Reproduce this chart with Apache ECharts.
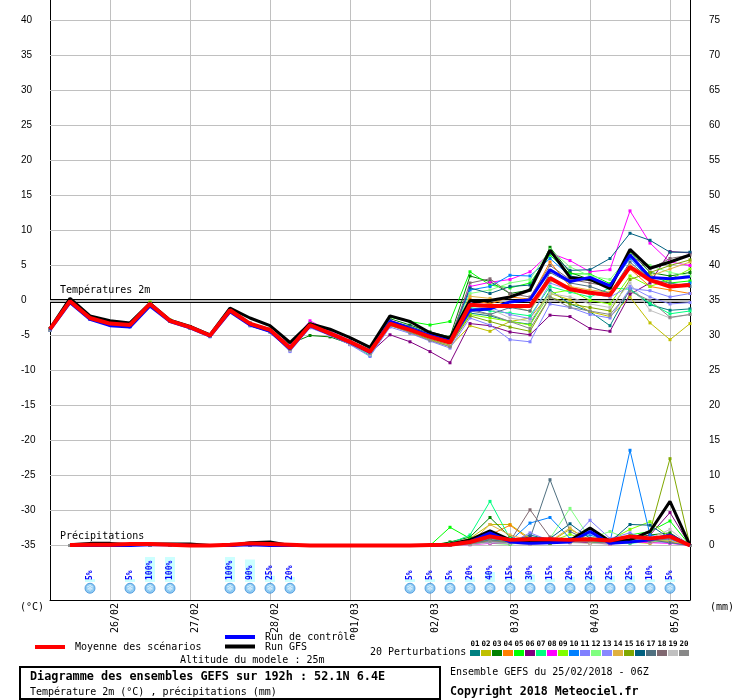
<!DOCTYPE html>
<html>
<head>
<meta charset="utf-8">
<title>Diagramme des ensembles GEFS</title>
<script src="https://cdn.jsdelivr.net/npm/echarts@6.0.0/dist/echarts.min.js"></script>
<style>
html, body { margin: 0; padding: 0; background: #fff; }
#main { width: 740px; height: 700px; }
</style>
</head>
<body>
<div id="main"></div>
<script>
// echéances 6h, du 25/02 06Z au 05/03 06Z (192h)
var times = [
  '25/02 06Z', '25/02 12Z', '25/02 18Z',
  '26/02 00Z', '26/02 06Z', '26/02 12Z', '26/02 18Z',
  '27/02 00Z', '27/02 06Z', '27/02 12Z', '27/02 18Z',
  '28/02 00Z', '28/02 06Z', '28/02 12Z', '28/02 18Z',
  '01/03 00Z', '01/03 06Z', '01/03 12Z', '01/03 18Z',
  '02/03 00Z', '02/03 06Z', '02/03 12Z', '02/03 18Z',
  '03/03 00Z', '03/03 06Z', '03/03 12Z', '03/03 18Z',
  '04/03 00Z', '04/03 06Z', '04/03 12Z', '04/03 18Z',
  '05/03 00Z', '05/03 06Z'
];
var tempTicks = [-35, -30, -25, -20, -15, -10, -5, 0, 5, 10, 15, 20, 25, 30, 35, 40];
var precipTicks = [0, 5, 10, 15, 20, 25, 30, 35, 40, 45, 50, 55, 60, 65, 70, 75];

var memberColors = ['#008080', '#c0c000', '#008000', '#ff8000', '#00ff00', '#800080', '#00ff80', '#ff00ff', '#80ff00', '#0080ff',
  '#8080ff', '#80ff80', '#8888ff', '#e0b040', '#80a800', '#006080', '#507080', '#806870', '#c0c0c0', '#888888'];

// température 2m (°C)
var tempMean = [-4.1, -0.1, -2.5, -3.3, -3.5, -0.5, -2.9, -3.8, -5.0, -1.4, -3.3, -4.2, -6.8, -3.5, -4.7, -5.9, -7.3, -3.3, -4.2, -5.2, -6.0, -0.6, -0.8, -0.8, -0.8, 3.2, 1.6, 1.1, 0.8, 4.8, 2.9, 2.0, 2.2];
var tempGfs = [-4.0, 0.3, -2.2, -2.9, -3.2, -0.4, -2.8, -3.7, -4.9, -1.1, -2.5, -3.6, -6.0, -3.3, -4.1, -5.3, -6.7, -2.2, -3.0, -4.6, -5.4, 0.0, 0.0, 0.5, 1.5, 7.2, 3.3, 3.0, 1.7, 7.3, 4.6, 5.5, 6.5];
var tempControl = [-4.2, -0.3, -2.7, -3.6, -3.8, -0.8, -3.0, -3.9, -5.1, -1.6, -3.5, -4.4, -6.9, -3.6, -4.8, -6.0, -7.4, -3.0, -4.0, -5.0, -5.8, -1.4, -1.2, -0.2, 0.1, 4.4, 2.7, 3.3, 2.1, 6.5, 3.3, 3.1, 3.4];

var t01 = [-4.2, -0.2, -2.6, -3.4, -3.6, -0.6, -2.9, -3.9, -5.1, -1.5, -3.4, -4.3, -6.9, -3.7, -4.8, -6.1, -7.5, -3.5, -4.4, -5.4, -6.3, -1.8, -2.2, -3.0, -3.4, 1.5, -0.5, -1.6, -3.6, 1.6, -0.6, -1.4, -1.2];
var t02 = [-4.0, -0.1, -2.4, -3.2, -3.4, -0.4, -2.8, -3.7, -5.0, -1.3, -3.2, -4.0, -6.5, -3.3, -4.5, -5.8, -7.2, -3.6, -4.5, -5.6, -6.6, -3.6, -4.4, -3.0, -2.5, 1.0, 0.1, -1.6, -2.3, 0.5, -3.2, -5.6, -3.3];
var t03 = [-4.1, 0.0, -2.5, -3.3, -3.6, -0.6, -3.0, -3.8, -5.1, -1.4, -3.6, -4.5, -6.2, -5.0, -5.2, -6.2, -7.6, -2.6, -3.5, -4.5, -5.2, 3.5, 2.7, 1.0, 1.5, 7.6, 4.0, 3.0, 2.0, 7.0, 4.0, 3.5, 4.0];
var t04 = [-4.2, -0.2, -2.6, -3.3, -3.5, -0.5, -2.9, -3.8, -5.0, -1.5, -3.3, -4.2, -6.7, -3.6, -4.6, -5.9, -7.1, -3.1, -4.0, -5.0, -5.6, 0.2, -0.5, 0.5, 0.2, 5.5, 2.0, 1.0, 0.5, 4.5, 2.0, 1.5, 1.0];
var t05 = [-4.1, -0.1, -2.5, -3.4, -3.5, -0.4, -2.9, -3.9, -5.0, -1.4, -3.4, -4.3, -7.0, -3.2, -4.8, -6.2, -7.8, -2.4, -3.0, -3.5, -3.0, 4.1, 2.2, 1.8, 2.5, 6.5, 3.8, 3.8, 2.4, 6.5, 3.6, 2.5, 2.8];
var t06 = [-4.2, -0.2, -2.7, -3.4, -3.6, -0.6, -3.0, -3.9, -5.1, -1.6, -3.5, -4.4, -7.1, -3.8, -4.9, -6.3, -7.5, -4.9, -5.9, -7.3, -8.9, -3.3, -3.6, -4.5, -4.9, -2.1, -2.3, -4.0, -4.4, 0.9, 2.5, 7.0, 6.8];
var t07 = [-4.0, -0.1, -2.5, -3.3, -3.5, -0.5, -2.9, -3.8, -5.0, -1.4, -3.3, -4.2, -6.9, -3.4, -4.7, -6.0, -7.9, -3.3, -4.2, -5.2, -6.1, -1.0, -1.5, -1.8, -2.2, 2.0, 1.2, 0.5, 1.8, 1.6, -0.4, -1.9, -1.5];
var t08 = [-4.1, -0.2, -2.6, -3.4, -3.6, -0.5, -2.9, -3.8, -5.0, -1.3, -3.2, -4.1, -6.4, -2.9, -4.4, -5.7, -7.2, -2.8, -3.8, -4.8, -5.5, 2.0, 2.6, 3.0, 4.1, 6.8, 5.7, 4.1, 4.4, 12.8, 8.2, 5.5, 5.0];
var t09 = [-4.1, 0.1, -2.5, -3.3, -3.5, -0.2, -2.8, -3.8, -5.0, -1.5, -3.4, -4.2, -6.8, -3.5, -4.7, -5.9, -7.4, -3.2, -4.3, -5.3, -6.2, -2.0, -2.5, -3.0, -3.5, 1.0, 1.5, 0.0, -0.5, 3.5, 2.0, 3.0, 4.5];
var t10 = [-4.2, -0.1, -2.6, -3.4, -3.7, -0.6, -3.0, -3.9, -5.1, -1.4, -3.3, -4.3, -6.8, -3.4, -4.6, -5.8, -7.0, -2.9, -3.9, -4.9, -5.7, 1.5, 2.0, 3.6, 3.5, 6.0, 3.5, 3.0, 2.0, 6.0, 3.0, 2.0, 2.5];
var t11 = [-4.1, -0.3, -2.7, -3.5, -3.8, -0.8, -3.0, -3.9, -5.2, -1.7, -3.6, -4.5, -7.3, -3.9, -5.0, -6.3, -8.0, -3.8, -4.7, -5.8, -6.8, -2.5, -3.5, -5.6, -5.9, -0.5, -1.0, -2.0, -2.5, 1.7, 1.4, 0.5, 1.0];
var t12 = [-4.0, -0.1, -2.4, -3.2, -3.4, -0.4, -2.9, -3.8, -5.0, -1.4, -3.2, -4.1, -6.6, -3.3, -4.6, -5.9, -7.3, -3.0, -3.9, -4.8, -5.5, 1.0, 1.5, 2.5, 3.0, 7.3, 4.8, 3.5, 3.0, 6.5, 5.0, 4.0, 3.5];
var t13 = [-4.2, -0.3, -2.7, -3.5, -3.7, -0.7, -3.0, -3.9, -5.1, -1.6, -3.5, -4.4, -7.2, -3.7, -4.9, -6.1, -7.7, -3.4, -4.3, -5.1, -5.9, -0.3, -1.0, -2.0, -2.6, 2.5, 1.5, 1.0, 0.5, 2.0, 0.5, -0.5, -0.3];
var t14 = [-4.1, -0.1, -2.5, -3.3, -3.5, -0.5, -2.9, -3.8, -5.0, -1.4, -3.3, -4.2, -6.7, -3.5, -4.7, -5.9, -7.2, -3.2, -4.1, -5.1, -5.8, 0.6, 0.3, -0.8, -1.5, 2.8, 2.0, 1.5, 1.2, 5.0, 3.5, 4.5, 5.5];
var t15 = [-4.1, -0.1, -2.5, -3.2, -3.4, -0.3, -2.8, -3.8, -5.0, -1.4, -3.3, -4.2, -6.8, -3.6, -4.8, -6.0, -7.4, -3.5, -4.5, -5.5, -6.4, -2.2, -3.0, -3.8, -4.4, 0.5, -0.5, -1.0, -1.5, 3.0, 4.0, 5.0, 5.8];
var t16 = [-4.2, -0.2, -2.6, -3.4, -3.6, -0.6, -3.0, -3.9, -5.1, -1.5, -3.4, -4.3, -6.8, -3.5, -4.7, -5.9, -7.2, -2.9, -3.7, -4.7, -5.5, 1.8, 1.0, 2.0, 2.2, 6.8, 4.3, 4.4, 6.0, 9.6, 8.6, 6.9, 6.9];
var t17 = [-4.1, -0.1, -2.5, -3.4, -3.5, -0.5, -2.9, -3.8, -5.0, -1.4, -3.3, -4.2, -6.9, -3.6, -4.8, -6.0, -7.4, -3.3, -4.2, -5.2, -6.0, -1.2, -2.0, -1.0, -1.5, 4.0, 2.5, 2.0, 1.0, 5.5, 3.0, 2.5, 2.0];
var t18 = [-4.0, -0.1, -2.4, -3.3, -3.5, -0.5, -2.9, -3.8, -5.0, -1.3, -3.2, -4.1, -6.6, -3.4, -4.6, -5.8, -7.1, -3.0, -3.9, -5.0, -5.7, 2.5, 3.1, 1.0, 0.5, 5.0, 3.0, 2.5, 2.0, 6.5, 4.5, 6.0, 6.5];
var t19 = [-4.2, -0.2, -2.6, -3.4, -3.6, -0.6, -3.0, -3.9, -5.1, -1.5, -3.5, -4.4, -7.1, -3.7, -4.9, -6.2, -7.7, -3.4, -4.4, -5.4, -6.3, -0.8, -1.2, -2.5, -3.0, 1.0, 0.5, -0.5, -1.0, 2.5, -1.4, -2.5, -2.0];
var t20 = [-4.1, -0.2, -2.6, -3.4, -3.6, -0.6, -3.0, -3.9, -5.1, -1.5, -3.4, -4.3, -7.0, -3.6, -4.8, -6.1, -7.6, -3.5, -4.6, -5.7, -6.6, -1.5, -2.0, -3.0, -4.0, 0.5, -1.0, -1.5, -2.0, 1.3, 0.0, -2.4, -2.0];
var tempMembers = [t01, t02, t03, t04, t05, t06, t07, t08, t09, t10, t11, t12, t13, t14, t15, t16, t17, t18, t19, t20];

// précipitations 6h (mm)
var precipMean = [null, 0.05, 0.1, 0.1, 0.2, 0.2, 0.1, 0, 0, 0.1, 0.3, 0.2, 0.1, 0, 0, 0, 0, 0, 0, 0.05, 0.1, 0.5, 1.3, 0.8, 0.9, 0.9, 0.8, 0.9, 0.7, 1.3, 1.0, 1.3, 0];
var precipGfs = [null, 0.1, 0.3, 0.3, 0.1, 0.2, 0.2, 0.2, 0, 0, 0.4, 0.5, 0, 0, 0, 0, 0, 0, 0, 0, 0.2, 0.8, 2.1, 0.8, 0.5, 0.6, 0.7, 2.5, 0.6, 0.8, 2.0, 6.3, 0];
var precipControl = [null, 0, 0, 0, 0, 0.1, 0.1, 0, 0, 0, 0.1, 0, 0, 0, 0, 0, 0, 0, 0, 0, 0.1, 0.5, 1.8, 0.5, 0.3, 0.4, 0.5, 2.0, 0.3, 0.5, 0.8, 1.5, 0];

var p01 = [null, 0, 0, 0, 0, 0, 0, 0, 0, 0, 0, 0, 0, 0, 0, 0, 0, 0, 0, 0.1, 0.3, 0.8, 1.2, 0.5, 1.5, 0.8, 1.0, 0.6, 0.3, 0.8, 1.0, 0.5, 0];
var p02 = [null, 0, 0, 0, 0, 0, 0, 0, 0, 0, 0, 0, 0, 0, 0, 0, 0, 0, 0, 0, 0.2, 1.0, 3.0, 3.0, 1.0, 0.5, 2.3, 0.8, 0.3, 0.5, 0.3, 1.0, 0];
var p03 = [null, 0, 0, 0, 0, 0, 0, 0, 0, 0, 0, 0, 0, 0, 0, 0, 0, 0, 0, 0, 0.5, 1.2, 4.0, 1.2, 0.3, 0.6, 0.8, 1.9, 0.5, 1.0, 1.5, 1.8, 0];
var p04 = [null, 0, 0, 0, 0, 0, 0, 0, 0, 0, 0, 0, 0, 0, 0, 0, 0, 0, 0, 0, 0.1, 0.4, 1.5, 2.9, 0.8, 0.5, 0.6, 0.3, 0.8, 1.2, 0.5, 0.6, 0];
var p05 = [null, 0, 0, 0, 0, 0, 0, 0, 0, 0, 0, 0, 0, 0, 0, 0, 0, 0, 0, 0, 2.6, 1.0, 0.3, 0.2, 0.5, 0.4, 0.6, 0.8, 0.5, 1.5, 2.0, 3.5, 0];
var p06 = [null, 0, 0, 0, 0, 0, 0, 0, 0, 0, 0, 0, 0, 0, 0, 0, 0, 0, 0, 0, 0, 0.2, 0.5, 0.3, 0.2, 0.3, 0.5, 0.4, 0.2, 0.6, 1.5, 4.7, 0];
var p07 = [null, 0, 0, 0, 0, 0, 0, 0, 0, 0, 0, 0, 0, 0, 0, 0, 0, 0, 0, 0, 0.3, 1.5, 6.3, 1.0, 0.5, 0.3, 0.8, 0.5, 0.4, 0.3, 0.6, 0.8, 0];
var p08 = [null, 0, 0, 0, 0, 0, 0, 0, 0, 0, 0, 0, 0, 0, 0, 0, 0, 0, 0, 0, 0, 0.1, 0.3, 0.4, 1.2, 0.6, 0.4, 0.8, 0.2, 0.5, 0.4, 0.3, 0];
var p09 = [null, 0, 0, 0, 0, 0, 0, 0, 0, 0, 0, 0, 0, 0, 0, 0, 0, 0, 0, 0, 0.1, 0.6, 1.8, 0.8, 0.4, 0.5, 1.6, 0.6, 0.8, 2.3, 3.4, 1.2, 0];
var p10 = [null, 0, 0, 0, 0, 0, 0, 0, 0, 0, 0, 0, 0, 0, 0, 0, 0, 0, 0, 0, 0.1, 0.3, 0.8, 0.6, 3.2, 4.0, 1.0, 1.5, 0.5, 13.6, 1.5, 0.8, 0];
var p11 = [null, 0, 0, 0, 0, 0, 0, 0, 0, 0, 0, 0, 0, 0, 0, 0, 0, 0, 0, 0, 0, 0.2, 0.6, 0.3, 1.8, 0.7, 0.5, 3.6, 1.0, 1.8, 0.6, 0.4, 0];
var p12 = [null, 0, 0, 0, 0, 0, 0, 0, 0, 0, 0, 0, 0, 0, 0, 0, 0, 0, 0, 0, 0.2, 0.5, 1.0, 0.5, 0.6, 1.0, 5.3, 1.0, 2.0, 0.8, 0.5, 0.7, 0];
var p13 = [null, 0, 0, 0, 0, 0, 0, 0, 0, 0, 0, 0, 0, 0, 0, 0, 0, 0, 0, 0, 0, 0.2, 0.5, 0.4, 0.3, 0.8, 0.6, 1.8, 0.4, 0.6, 1.0, 0.8, 0];
var p14 = [null, 0, 0, 0, 0, 0, 0, 0, 0, 0, 0, 0, 0, 0, 0, 0, 0, 0, 0, 0, 0.1, 0.3, 3.0, 1.5, 0.7, 0.6, 2.5, 0.5, 0.6, 1.0, 0.8, 0.6, 0];
var p15 = [null, 0, 0, 0, 0, 0, 0, 0, 0, 0, 0, 0, 0, 0, 0, 0, 0, 0, 0, 0, 0, 0.2, 0.7, 0.4, 0.5, 0.3, 0.6, 0.7, 0.3, 0.8, 2.0, 12.4, 0];
var p16 = [null, 0, 0, 0, 0, 0, 0, 0, 0, 0, 0, 0, 0, 0, 0, 0, 0, 0, 0, 0, 0.1, 0.4, 1.0, 0.8, 1.2, 1.0, 3.1, 1.0, 0.5, 3.0, 2.9, 1.0, 0];
var p17 = [null, 0, 0, 0, 0, 0, 0, 0, 0, 0, 0, 0, 0, 0, 0, 0, 0, 0, 0, 0, 0.1, 0.3, 0.8, 0.5, 1.0, 9.4, 2.0, 0.6, 0.3, 0.5, 0.8, 0.4, 0];
var p18 = [null, 0, 0, 0, 0, 0, 0, 0, 0, 0, 0, 0, 0, 0, 0, 0, 0, 0, 0, 0, 0, 0.2, 1.0, 0.6, 5.1, 1.2, 0.4, 0.7, 0.5, 0.4, 0.6, 1.0, 0];
var p19 = [null, 0, 0, 0, 0, 0, 0, 0, 0, 0, 0, 0, 0, 0, 0, 0, 0, 0, 0, 0, 0, 0.1, 0.4, 0.3, 0.2, 0.5, 0.4, 0.3, 0.2, 0.5, 1.0, 2.3, 0];
var p20 = [null, 0, 0, 0, 0, 0, 0, 0, 0, 0, 0, 0, 0, 0, 0, 0, 0, 0, 0, 0, 0, 0.2, 0.6, 0.4, 0.5, 0.8, 0.5, 0.6, 0.4, 0.6, 0.8, 1.0, 0];
var precipMembers = [p01, p02, p03, p04, p05, p06, p07, p08, p09, p10, p11, p12, p13, p14, p15, p16, p17, p18, p19, p20];

// probabilité de neige (%)
var snowPct = [null, null, 5, null, 5, 100, 100, null, null, 100, 90, 25, 20, null, null, null, null, null,
  5, 5, 5, 20, 40, 15, 30, 15, 20, 25, 25, 25, 10, 5, null];

var MONO = '"DejaVu Sans Mono", "Liberation Mono", monospace';
var SANS = '"Liberation Sans", Arial, sans-serif';
var snowRow = -25; // ligne des flocons, sous la barre de probabilité

var chart = echarts.init(document.getElementById('main'));

function isDayStart(index, value) {
  return String(value).indexOf('00Z') > 0;
}

function memberLine(data, color, axis) {
  return {
    type: 'line', yAxisIndex: axis, data: data, silent: true,
    symbol: 'rect', symbolSize: 3, showSymbol: true, showAllSymbol: true,
    lineStyle: { width: 1, color: color }, itemStyle: { color: color }, z: 2
  };
}

function mainLine(data, color, width, axis, z) {
  return {
    type: 'line', yAxisIndex: axis, data: data, silent: true,
    symbol: 'none', showSymbol: false,
    lineStyle: { width: width, color: color }, z: z
  };
}

var series = [];

// grille horizontale et double ligne 0°C
var gridLines = tempTicks.map(function (v) {
  return { yAxis: v, lineStyle: { color: '#c0c0c0', width: 1, type: 'solid' } };
});
gridLines.push({ yAxis: 0, lineStyle: { color: '#000', width: 4, type: 'solid' } });
gridLines.push({ yAxis: 0, lineStyle: { color: '#fff', width: 1.5, type: 'solid' } });
series.push({
  type: 'line', yAxisIndex: 0, data: [], silent: true,
  markLine: { z: 1, silent: true, symbol: 'none', animation: false, label: { show: false }, data: gridLines }
});

tempMembers.forEach(function (d, i) { series.push(memberLine(d, memberColors[i], 0)); });
precipMembers.forEach(function (d, i) { series.push(memberLine(d, memberColors[i], 1)); });

series.push(mainLine(tempGfs, '#000000', 3, 0, 3));
series.push(mainLine(precipGfs, '#000000', 3, 1, 3));
series.push(mainLine(tempControl, '#0000ff', 3, 0, 4));
series.push(mainLine(precipControl, '#0000ff', 3, 1, 4));
series.push(mainLine(tempMean, '#ff0000', 4, 0, 5));
series.push(mainLine(precipMean, '#ff0000', 4, 1, 5));

// barres de probabilité de neige
series.push({
  type: 'bar', yAxisIndex: 2, data: snowPct, barWidth: 10, barMinHeight: 3, silent: true,
  itemStyle: { color: '#ccffff' },
  label: {
    show: true, position: 'insideBottom', distance: 2, rotate: 90, align: 'left', verticalAlign: 'middle',
    formatter: function (p) { return p.value + '%'; },
    color: '#0000ff', fontFamily: MONO, fontSize: 8, fontWeight: 'bold'
  },
  z: 2
});
// flocons
series.push({
  type: 'scatter', yAxisIndex: 2, silent: true,
  data: snowPct.map(function (p) { return p == null ? null : snowRow; }),
  symbol: 'circle', symbolSize: 10,
  itemStyle: { color: '#6fbdf0', borderColor: '#3f8fd8', borderWidth: 1 },
  label: { show: true, position: 'inside', formatter: '\u2744', color: '#ffffff', fontSize: 9, fontFamily: '"DejaVu Sans"' },
  z: 3
});

var option = {
  animation: false,
  backgroundColor: '#ffffff',
  grid: { left: 50, right: 50, top: 0, bottom: 100, containLabel: false },
  xAxis: {
    type: 'category', data: times, boundaryGap: false,
    axisLine: { show: true, onZero: false, lineStyle: { color: '#000', width: 1 } },
    axisTick: { show: false },
    axisLabel: {
      interval: isDayStart, rotate: 90, align: 'right', verticalAlign: 'top', margin: 3,
      formatter: function (v) { return v.slice(0, 5); },
      fontFamily: MONO, fontSize: 10, color: '#000'
    },
    splitLine: { show: true, interval: isDayStart, lineStyle: { color: '#c0c0c0', width: 1 } }
  },
  yAxis: [
    {
      type: 'value', position: 'left', min: -42.79, max: 42.93,
      axisLine: { show: true, onZero: false, lineStyle: { color: '#000', width: 1 } },
      axisTick: { show: false }, splitLine: { show: false },
      axisLabel: { customValues: tempTicks, align: 'left', margin: 29, fontFamily: SANS, fontSize: 10, color: '#000' }
    },
    {
      type: 'value', position: 'right', min: -7.79, max: 77.93,
      axisLine: { show: true, onZero: false, lineStyle: { color: '#000', width: 1 } },
      axisTick: { show: false }, splitLine: { show: false },
      axisLabel: { customValues: precipTicks, align: 'left', margin: 19, fontFamily: SANS, fontSize: 10, color: '#000' }
    },
    { type: 'value', min: -72, max: 2328, show: false }
  ],
  series: series
};

chart.setOption(option);

// textes et légende
var x0 = chart.convertToPixel({ xAxisIndex: 0 }, times[0]);
var yZero = chart.convertToPixel({ yAxisIndex: 0 }, 0);
var yPrecip = chart.convertToPixel({ yAxisIndex: 1 }, 0);

function txt(x, y, s, size, bold) {
  return {
    type: 'text', x: x, y: y, silent: true,
    style: { text: s, fill: '#000', font: (bold ? 'bold ' : '') + size + 'px ' + MONO, verticalAlign: 'middle', align: 'left' }
  };
}

var graphics = [
  txt(x0 + 10, yZero - 10, 'Températures 2m', 10),
  txt(x0 + 10, yPrecip - 9.5, 'Précipitations', 10),
  txt(20, 607, '(°C)', 10),
  txt(710, 607, '(mm)', 10),
  { type: 'rect', shape: { x: 35, y: 645, width: 30, height: 4 }, style: { fill: '#ff0000' } },
  txt(75, 647, 'Moyenne des scénarios', 10),
  { type: 'rect', shape: { x: 225, y: 635, width: 30, height: 4 }, style: { fill: '#0000ff' } },
  txt(265, 637, 'Run de contrôle', 10),
  { type: 'rect', shape: { x: 225, y: 644.5, width: 30, height: 4 }, style: { fill: '#000000' } },
  txt(265, 647, 'Run GFS', 10),
  txt(180, 660, 'Altitude du modele : 25m', 10),
  { type: 'rect', shape: { x: 20, y: 667, width: 420, height: 32 }, style: { fill: '#fff', stroke: '#000', lineWidth: 2 } },
  txt(30, 677, 'Diagramme des ensembles GEFS sur 192h : 52.1N 6.4E', 11.8, true),
  txt(30, 692, 'Température 2m (°C) , précipitations (mm)', 10),
  txt(450, 672, 'Ensemble GEFS du 25/02/2018 - 06Z', 10),
  txt(450, 692, 'Copyright 2018 Meteociel.fr', 11.6, true),
  txt(370, 652, '20 Perturbations', 10)
];

memberColors.forEach(function (c, i) {
  graphics.push({ type: 'rect', shape: { x: 470 + 11 * i, y: 650, width: 10, height: 6 }, style: { fill: c } });
  graphics.push({
    type: 'text', x: 475 + 11 * i, y: 644,
    style: { text: (i < 9 ? '0' : '') + (i + 1), fill: '#000', font: 'bold 7.5px ' + MONO, align: 'center', verticalAlign: 'middle' }
  });
});

chart.setOption({ graphic: graphics });
</script>
</body>
</html>
